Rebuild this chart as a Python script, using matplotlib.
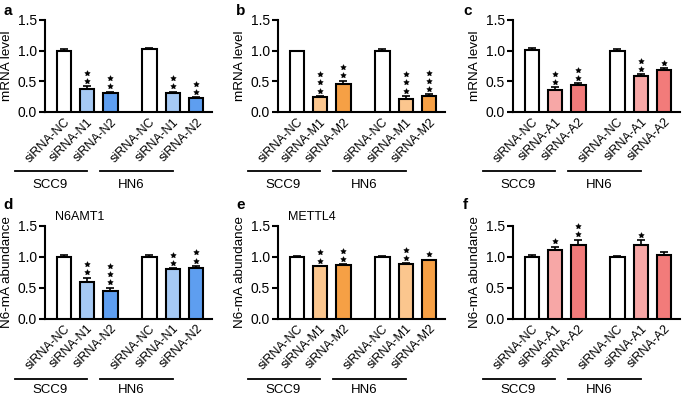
import matplotlib.pyplot as plt
import numpy as np
from matplotlib.transforms import ScaledTranslation, blended_transform_factory

plt.rcParams['font.family'] = ['Liberation Sans', 'DejaVu Sans']

cell_lines = ["SCC9", "HN6"]
labels_n = ["siRNA-NC", "siRNA-N1", "siRNA-N2"]
labels_m = ["siRNA-NC", "siRNA-M1", "siRNA-M2"]
labels_a = ["siRNA-NC", "siRNA-A1", "siRNA-A2"]

colors_n = ["white", "#a6c9f4", "#5e9ef0"]
colors_m = ["white", "#fbc68e", "#f6a045"]
colors_a = ["white", "#f7a7a6", "#f27b7a"]

# values are SCC9 (NC, 1, 2) then HN6 (NC, 1, 2)
mrna_n = [1.00, 0.37, 0.31, 1.02, 0.30, 0.22]
mrna_n_err = [0.02, 0.05, 0.02, 0.02, 0.03, 0.02]
mrna_n_stars = [0, 2, 2, 0, 2, 2]

mrna_m = [0.99, 0.24, 0.45, 0.99, 0.21, 0.25]
mrna_m_err = [0.01, 0.02, 0.06, 0.03, 0.05, 0.04]
mrna_m_stars = [0, 3, 2, 0, 3, 3]

mrna_a = [1.01, 0.35, 0.44, 1.00, 0.58, 0.68]
mrna_a_err = [0.03, 0.05, 0.03, 0.02, 0.03, 0.03]
mrna_a_stars = [0, 2, 2, 0, 2, 1]

n6ma_n = [1.00, 0.59, 0.45, 1.00, 0.80, 0.82]
n6ma_n_err = [0.02, 0.07, 0.05, 0.03, 0.01, 0.03]
n6ma_n_stars = [0, 2, 3, 0, 2, 2]

n6ma_m = [1.00, 0.84, 0.87, 1.00, 0.88, 0.94]
n6ma_m_err = [0.005, 0.01, 0.01, 0.005, 0.01, 0.01]
n6ma_m_stars = [0, 2, 2, 0, 2, 1]

n6ma_a = [1.00, 1.11, 1.19, 1.00, 1.18, 1.02]
n6ma_a_err = [0.02, 0.05, 0.08, 0.01, 0.08, 0.05]
n6ma_a_stars = [0, 1, 2, 0, 1, 0]

xpos = np.array([0, 1, 2, 3.67, 4.67, 5.67])

panels = [
    ("a", mrna_n, mrna_n_err, mrna_n_stars, labels_n, colors_n, "mRNA level", None),
    ("b", mrna_m, mrna_m_err, mrna_m_stars, labels_m, colors_m, "mRNA level", None),
    ("c", mrna_a, mrna_a_err, mrna_a_stars, labels_a, colors_a, "mRNA level", None),
    ("d", n6ma_n, n6ma_n_err, n6ma_n_stars, labels_n, colors_n, "N6-mA abundance", "N6AMT1"),
    ("e", n6ma_m, n6ma_m_err, n6ma_m_stars, labels_m, colors_m, "N6-mA abundance", "METTL4"),
    ("f", n6ma_a, n6ma_a_err, n6ma_a_stars, labels_a, colors_a, "N6-mA abundance", None),
]

W, H = 682, 396
fig = plt.figure(figsize=(W / 100, H / 100), dpi=100)

lefts = [45, 278, 513]
# y of 0.0 (px from top), axis height, group line y, group text y (axes fraction)
rows = [(111.7, 91.7, -0.65, -0.80), (318.5, 93, -0.655, -0.765)]
letter_pos = [(3, 11), (236, 11), (463, 11), (3, 205), (236, 205), (463, 205)]

lw = 1.5
for i, (letter, vals, errs, stars, labels, colors, ylab, title) in enumerate(panels):
    left = lefts[i % 3]
    y0, h, line_y, text_y = rows[i // 3]
    ax = fig.add_axes([left / W, (H - y0) / H, 167 / W, h / H])

    ax.bar(xpos, vals, width=0.61, color=colors * 2, edgecolor="black",
           linewidth=lw, zorder=3)
    ax.errorbar(xpos, vals, yerr=[np.zeros(6), errs], fmt="none", ecolor="black",
                elinewidth=1.2, capsize=3, capthick=1.2, zorder=2)

    # significance stars stacked above the error bars
    for x, v, e, n in zip(xpos, vals, errs, stars):
        for k in range(n):
            tr = ax.transData + ScaledTranslation(0, (3.8 + 5.8 * k) / 72, fig.dpi_scale_trans)
            ax.plot([x], [v + e], marker=(5, 1, 0), ms=4.2, color="black",
                    mew=0.3, transform=tr, clip_on=False, zorder=4)

    ax.set_xlim(-0.8, 6.35)
    ax.set_ylim(0, 1.5)
    ax.set_yticks([0, 0.5, 1.0, 1.5])
    ax.set_yticklabels(["0.0", "0.5", "1.0", "1.5"])
    ax.spines[["top", "right"]].set_visible(False)
    ax.spines[["left", "bottom"]].set_linewidth(lw)
    ax.tick_params(axis="y", length=4, width=lw, labelsize=10, pad=2)
    ax.tick_params(axis="x", length=0, pad=3)
    ax.set_xticks(xpos)
    ax.set_xticklabels(labels * 2, rotation=45, ha="right", rotation_mode="anchor",
                       fontsize=9)
    ax.set_ylabel(ylab, fontsize=9.7, labelpad=3)

    # cell line group lines and names
    tb = blended_transform_factory(ax.transData, ax.transAxes)
    for g, name in enumerate(cell_lines):
        first, last = xpos[3 * g], xpos[3 * g + 2]
        ax.plot([first - 2.1, last - 1.0], [line_y, line_y], color="black", lw=1.3,
                transform=tb, clip_on=False)
        ax.text(first - 1.35, text_y, name, transform=tb, ha="left", va="center",
                fontsize=9.5)

    if title:
        ax.text(0.06, 1.09, title, transform=ax.transAxes, ha="left", va="center",
                fontsize=9)

    lx, ly = letter_pos[i]
    fig.text(lx / W, 1 - ly / H, letter, fontsize=11, fontweight="bold",
             ha="left", va="center")

fig.savefig("out.png", dpi=100)
